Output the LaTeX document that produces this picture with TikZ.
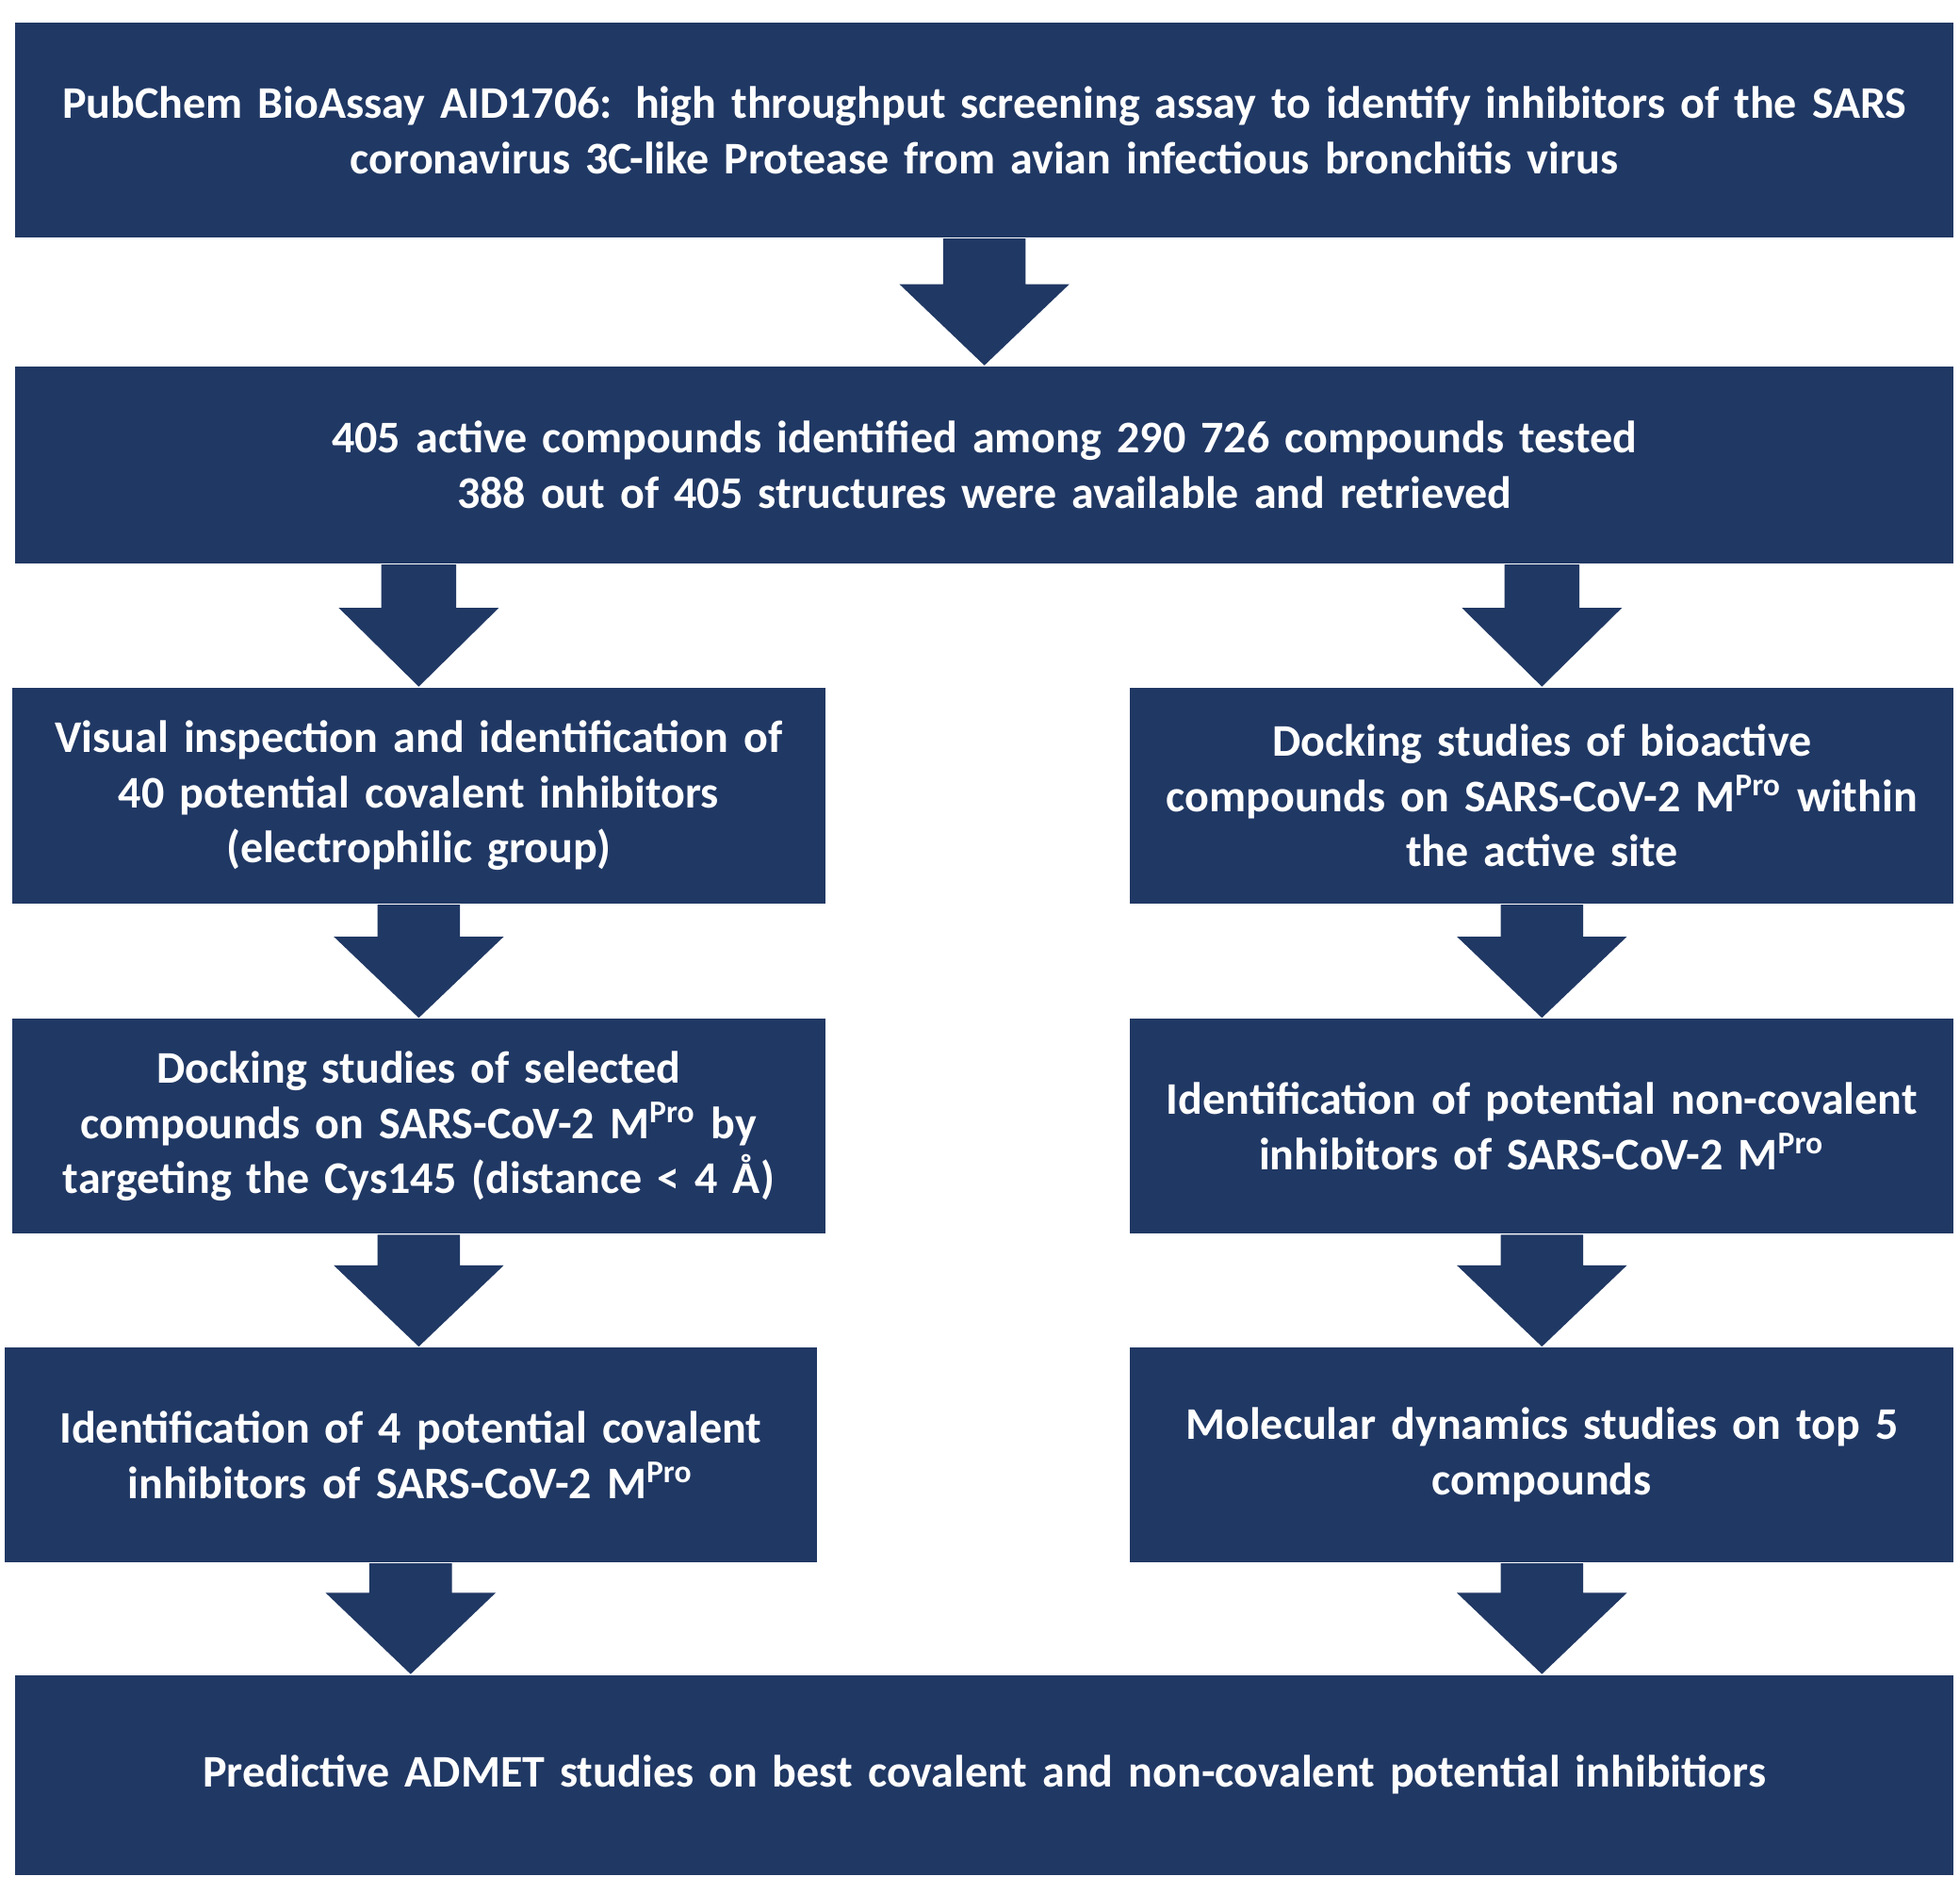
\documentclass[tikz,border=0pt]{standalone}
\usepackage{fontspec}
\setmainfont{Carlito}
\usetikzlibrary{calc}
\definecolor{navy}{HTML}{203864}
\tikzset{
  flowbox/.style={fill=navy,text=white,align=center,inner sep=0pt,
    font=\bfseries\fontsize{10.3}{12.6}\selectfont},
  wide/.style={flowbox,minimum width=15.51cm,text width=15.3cm},
  half/.style={flowbox,minimum width=#1cm,text width=6.5cm},
}
\newcommand{\flowarrow}[2]{%
  \fill[navy] ($(#1.south)+(-0.33,0)$) -- ($(#1.south)+(0.33,0)$)
    -- ($(#1.south |- #2.north)+(0.33,0.65)$) -- ++(0.35,0)
    -- (#1.south |- #2.north)
    -- ($(#1.south |- #2.north)+(-0.68,0.65)$) -- ++(0.35,0) -- cycle;}
\begin{document}
\begin{tikzpicture}
\useasboundingbox (0,0) rectangle (15.68,-15.14);

% boxes
\node[wide,minimum height=1.72cm] (bioassay) at (7.875,-1.04)
  {PubChem BioAssay AID1706: high throughput screening assay to identify inhibitors of the SARS\\coronavirus 3C-like Protease from avian infectious bronchitis virus};
\node[wide,minimum height=1.58cm] (actives) at (7.875,-3.72)
  {405 active compounds identified among 290 726 compounds tested\\388 out of 405 structures were available and retrieved};

\node[half=6.46,minimum height=1.73cm] (visual) at (3.35,-6.365)
  {Visual inspection and identification of\\40 potential covalent inhibitors\\(electrophilic group)};
\node[half=6.59,minimum height=1.73cm] (dockall) at (12.335,-6.365)
  {Docking studies of bioactive\\compounds on SARS-CoV-2 M\textsuperscript{Pro} within\\the active site};

\node[half=6.46,minimum height=1.72cm] (dockcys) at (3.35,-9.01)
  {Docking studies of selected\\compounds on SARS-CoV-2 M\textsuperscript{Pro} by\\targeting the Cys145 (distance < 4 Å)};
\node[half=6.59,minimum height=1.72cm] (noncov) at (12.335,-9.01)
  {Identification of potential non-covalent\\inhibitors of SARS-CoV-2 M\textsuperscript{Pro}};

\node[half=6.33,minimum height=1.72cm] (covalent) at (3.285,-11.64)
  {Identification of 4 potential covalent\\inhibitors of SARS-CoV-2 M\textsuperscript{Pro}};
\node[half=6.59,minimum height=1.72cm] (dynamics) at (12.335,-11.64)
  {Molecular dynamics studies on top 5\\compounds};

\node[wide,minimum height=1.6cm] (admet) at (7.875,-14.2)
  {Predictive ADMET studies on best covalent and non-covalent potential inhibitiors};

% arrows
\flowarrow{bioassay}{actives}
\coordinate (lsplit) at (actives.south -| visual.north);
\coordinate (rsplit) at (actives.south -| dockall.north);
\fill[navy] ($(lsplit)+(-0.3,0)$) -- ($(lsplit)+(0.3,0)$) -- ($(visual.north)+(0.3,0.63)$) -- ++(0.34,0)
  -- (visual.north) -- ($(visual.north)+(-0.64,0.63)$) -- ++(0.34,0) -- cycle;
\fill[navy] ($(rsplit)+(-0.3,0)$) -- ($(rsplit)+(0.3,0)$) -- ($(dockall.north)+(0.3,0.63)$) -- ++(0.34,0)
  -- (dockall.north) -- ($(dockall.north)+(-0.64,0.63)$) -- ++(0.34,0) -- cycle;
\flowarrow{visual}{dockcys}
\flowarrow{dockall}{noncov}
\flowarrow{dockcys}{covalent}
\flowarrow{noncov}{dynamics}
\flowarrow{covalent}{admet}
\flowarrow{dynamics}{admet}
\end{tikzpicture}
\end{document}
